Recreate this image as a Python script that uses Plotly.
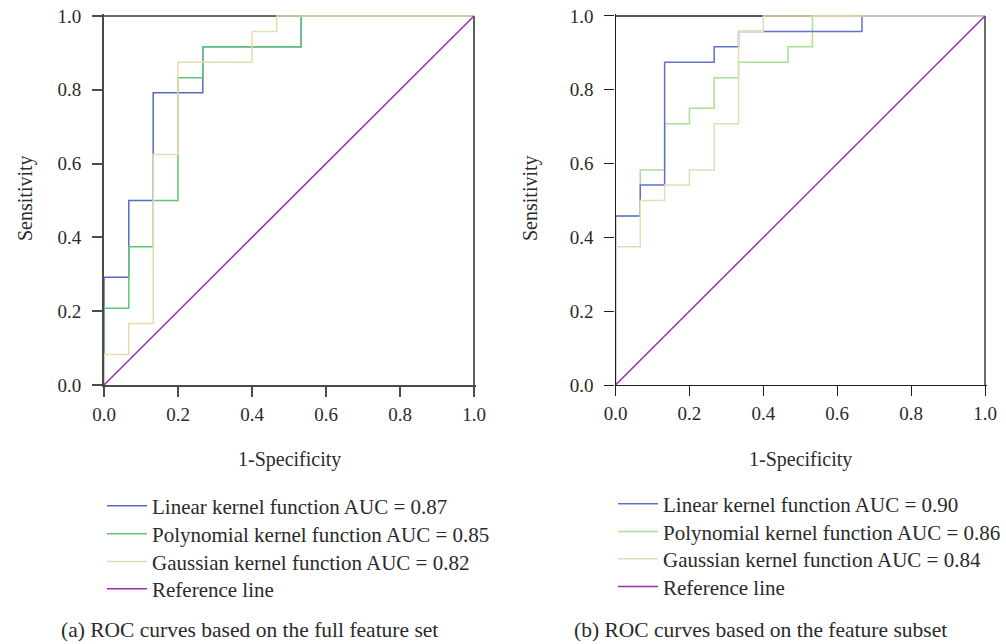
import plotly.graph_objects as go

# ---------------- data (ROC operating points) ----------------
# Panel (a): full feature set
a_lin_fpr = [0, 0, 0.067, 0.133, 0.267, 0.533, 1.0]
a_lin_tpr = [0, 0.292, 0.5, 0.792, 0.917, 1.0, 1.0]
a_poly_fpr = [0, 0, 0.067, 0.133, 0.2, 0.267, 0.533, 1.0]
a_poly_tpr = [0, 0.208, 0.375, 0.5, 0.833, 0.917, 1.0, 1.0]
a_gau_fpr = [0, 0, 0.067, 0.133, 0.2, 0.4, 0.467, 1.0]
a_gau_tpr = [0, 0.083, 0.167, 0.625, 0.875, 0.958, 1.0, 1.0]

# Panel (b): feature subset
b_lin_fpr = [0, 0, 0.067, 0.133, 0.267, 0.333, 0.667, 1.0]
b_lin_tpr = [0, 0.458, 0.542, 0.875, 0.917, 0.958, 1.0, 1.0]
b_poly_fpr = [0, 0, 0.067, 0.133, 0.2, 0.267, 0.333, 0.467, 0.533, 1.0]
b_poly_tpr = [0, 0.458, 0.583, 0.708, 0.75, 0.833, 0.875, 0.917, 1.0, 1.0]
b_gau_fpr = [0, 0, 0.067, 0.133, 0.2, 0.267, 0.333, 0.4, 1.0]
b_gau_tpr = [0, 0.375, 0.5, 0.542, 0.583, 0.708, 0.958, 1.0, 1.0]

ref_x = [0, 1]
ref_y = [0, 1]

a_names = ["Linear kernel function AUC = 0.87",
           "Polynomial kernel function AUC = 0.85",
           "Gaussian kernel function AUC = 0.82",
           "Reference line"]
b_names = ["Linear kernel function AUC = 0.90",
           "Polynomial kernel function AUC = 0.86",
           "Gaussian kernel function AUC = 0.84",
           "Reference line"]

tick_vals = [0, 0.2, 0.4, 0.6, 0.8, 1.0]
tick_text = ["0.0", "0.2", "0.4", "0.6", "0.8", "1.0"]
x_title = "1-Specificity"
y_title = "Sensitivity"
captions = ["(a) ROC curves based on the full feature set",
            "(b) ROC curves based on the feature subset"]

# ---------------- style ----------------
W, H = 1006, 644
FONT = "Liberation Serif"
TXT = "#2a2a2a"
C_BLUE_A, C_GREEN_A, C_GAU_A = "#5a69c6", "#62c474", "#e6dcae"
C_BLUE_B, C_GREEN_B, C_GAU_B = "#6270c8", "#a6e290", "#e6dcb2"
C_REF = "#9a2fae"
LW = 1.5

def px_x(p):
    return p / W

def px_y(p):
    return 1 - p / H

fig = go.Figure()

def add_line(x, y, name, color, xa, ya, legend, shape="hv"):
    fig.add_trace(go.Scatter(
        x=x, y=y, mode="lines", name=name, line=dict(color=color, width=LW, shape=shape),
        xaxis=xa, yaxis=ya, legend=legend, hoverinfo="skip"))

# panel a: blue, green, gaussian, reference
add_line(a_lin_fpr, a_lin_tpr, a_names[0], C_BLUE_A, "x", "y", "legend")
add_line(a_poly_fpr, a_poly_tpr, a_names[1], C_GREEN_A, "x", "y", "legend2")
add_line(a_gau_fpr, a_gau_tpr, a_names[2], C_GAU_A, "x", "y", "legend3")
add_line(ref_x, ref_y, a_names[3], C_REF, "x", "y", "legend4", shape="linear")
# panel b: green under blue
add_line(b_poly_fpr, b_poly_tpr, b_names[1], C_GREEN_B, "x2", "y2", "legend6")
add_line(b_lin_fpr, b_lin_tpr, b_names[0], C_BLUE_B, "x2", "y2", "legend5")
add_line(b_gau_fpr, b_gau_tpr, b_names[2], C_GAU_B, "x2", "y2", "legend7")
add_line(ref_x, ref_y, b_names[3], C_REF, "x2", "y2", "legend8", shape="linear")

# domains (pixel-measured)
ax_a = [px_x(104), px_x(104 + 370 * 1.005)]
ax_b = [px_x(615.5), px_x(615.5 + 369.5 * 1.005)]
ay = [px_y(385), px_y(385 - 369 * 1.005)]

def axis(domain, anchor, lc, lw, standoff):
    return dict(domain=domain, anchor=anchor, range=[0, 1.005], tickvals=tick_vals, ticktext=tick_text,
                showgrid=False, zeroline=False, showline=True, linecolor=lc, linewidth=lw,
                ticks="outside", ticklen=10, tickwidth=lw, tickcolor=lc, ticklabelstandoff=standoff,
                tickfont=dict(family=FONT, size=19, color=TXT), layer="above traces",
                fixedrange=True, automargin=False)

shapes = []
for xr, yr, lc, lw in (("x", "y", "#3a3a3a", 1.6), ("x2", "y2", "#1e1e1e", 1.3)):
    shapes.append(dict(type="line", xref=xr, yref=yr, x0=0, x1=1, y0=1, y1=1,
                       line=dict(color=lc, width=lw), layer="below"))
    shapes.append(dict(type="line", xref=xr, yref=yr, x0=1, x1=1, y0=0, y1=1,
                       line=dict(color=lc, width=lw), layer="below"))

annotations = []
for cx in (289, 800):
    annotations.append(dict(text=x_title, x=px_x(cx), y=px_y(459), xref="paper", yref="paper",
                            showarrow=False, xanchor="center", yanchor="middle",
                            font=dict(family=FONT, size=20, color=TXT)))
for cx in (26, 531):
    annotations.append(dict(text=y_title, x=px_x(cx), y=px_y(198), xref="paper", yref="paper",
                            showarrow=False, xanchor="center", yanchor="middle", textangle=-90,
                            font=dict(family=FONT, size=20, color=TXT)))
for cx, cap in zip((249, 760.5), captions):
    annotations.append(dict(text=cap, x=px_x(cx), y=px_y(630), xref="paper", yref="paper",
                            showarrow=False, xanchor="center", yanchor="middle",
                            font=dict(family=FONT, size=21.5, color=TXT)))

def legend(xpx, ypx):
    return dict(x=px_x(xpx), y=px_y(ypx), xanchor="left", yanchor="middle", orientation="v",
                bgcolor="rgba(0,0,0,0)", borderwidth=0, itemwidth=40,
                font=dict(family=FONT, size=21, color=TXT), itemclick=False, itemdoubleclick=False)

legend_rows_a = [507.7, 535.7, 563.3, 590.7]
legend_rows_b = [505.7, 533.3, 560.7, 588.3]
leg = {}
for i, r in enumerate(legend_rows_a):
    leg["legend" if i == 0 else "legend%d" % (i + 1)] = legend(102, r - 1.5)
for i, r in enumerate(legend_rows_b):
    leg["legend%d" % (i + 5)] = legend(613, r - 1.5)

fig.update_layout(
    width=W, height=H, margin=dict(l=0, r=0, t=0, b=0, autoexpand=False),
    paper_bgcolor="white", plot_bgcolor="rgba(0,0,0,0)",
    xaxis=axis(ax_a, "y", "#4a4a4a", 2, 1),
    yaxis=axis(ay, "x", "#4a4a4a", 2, 7),
    xaxis2=axis(ax_b, "y2", "#1e1e1e", 1.3, 1),
    yaxis2=axis(ay, "x2", "#1e1e1e", 1.3, 7),
    shapes=shapes, annotations=annotations,
    showlegend=True,
    **leg,
)

fig.write_html("out.html", config={"displayModeBar": False},
               post_script="document.body.style.margin='0';document.body.style.overflow='hidden';")
